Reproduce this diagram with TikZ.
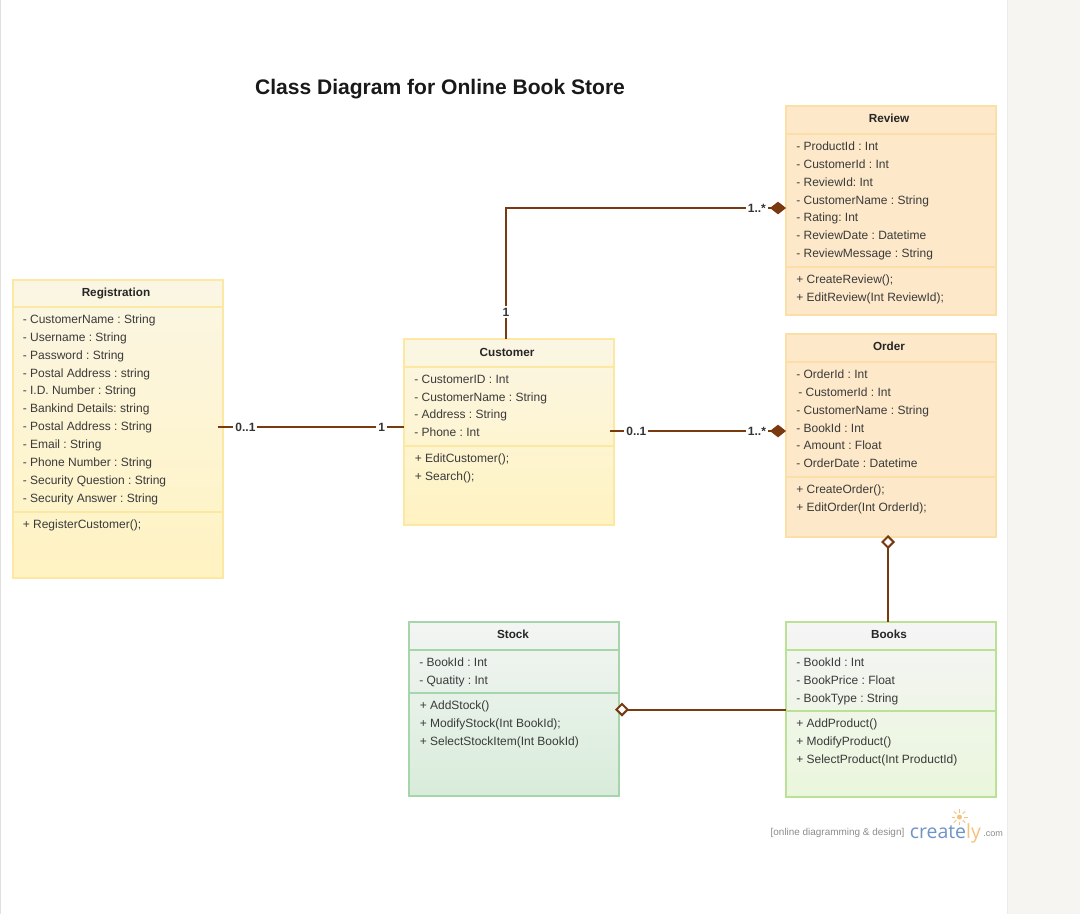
\documentclass[tikz,border=0pt]{standalone}
\usepackage{fontspec}
\setmainfont{Liberation Sans}
\newfontfamily\logofont{Open Sans}
\usetikzlibrary{arrows.meta,calc}
\definecolor{linkbrown}{HTML}{7A3A10}
\definecolor{membertext}{HTML}{3A3A3A}
\definecolor{yellowedge}{HTML}{FCE8A2}
\definecolor{orangeedge}{HTML}{FCDFA6}
\definecolor{stockedge}{HTML}{A6D4AB}
\definecolor{bookedge}{HTML}{BBE294}
\definecolor{yellowtop}{HTML}{FBF6E4}
\definecolor{yellowbottom}{HTML}{FFF3C2}
\definecolor{orangefill}{HTML}{FDE9C9}
\definecolor{stocktop}{HTML}{F3F5F3}
\definecolor{stockbottom}{HTML}{D8ECDA}
\definecolor{booktop}{HTML}{F5F5F5}
\definecolor{bookbottom}{HTML}{EAF6DC}
\definecolor{panelgrey}{HTML}{F6F5F1}
\definecolor{logoblue}{HTML}{6E94C6}
\definecolor{logoorange}{HTML}{F5C27C}
\tikzset{
	classbox/.style={draw,line width=1.5pt,rectangle,anchor=north west,inner sep=0pt,outer sep=0pt,minimum width=157.5pt},
	yellowclass/.style={classbox,draw=yellowedge,top color=yellowtop,bottom color=yellowbottom},
	orangeclass/.style={classbox,draw=orangeedge,fill=orangefill},
	stockclass/.style={classbox,draw=stockedge,top color=stocktop,bottom color=stockbottom},
	bookclass/.style={classbox,draw=bookedge,top color=booktop,bottom color=bookbottom},
	classname/.style={font=\fontsize{8.8}{11}\selectfont\bfseries,text=black!85,inner sep=0pt},
	members/.style={font=\fontsize{9}{13.4}\selectfont\frenchspacing,text=membertext,align=left,anchor=north west,inner sep=0pt},
	link/.style={draw=linkbrown,line width=1.5pt},
	multi/.style={font=\fontsize{9}{11}\selectfont\bfseries,text=black!80,fill=white,inner sep=1.5pt},
	whole/.style={-{Diamond[length=12pt,width=9.5pt,fill=linkbrown]}},
	part/.style={-{Diamond[length=10.5pt,width=10.5pt,fill=white]}},
}
\begin{document}
\begin{tikzpicture}[x=0.75pt,y=-0.75pt]
	\useasboundingbox (0,0) rectangle (1080,914);
	\fill[white] (0,0) rectangle (1080,914);
	\fill[panelgrey] (1007,0) rectangle (1080,914);
	\draw[black!8,line width=.75pt] (1007,0) -- (1007,914);
	\draw[blue!10!black!12,line width=.75pt] (.5,0) -- (.5,914);

	\node[font=\fontsize{15.8}{20}\selectfont\bfseries,text=black!90,inner sep=0pt] (diagramtitle) at (440,89) {Class Diagram for Online Book Store};

	% registration
	\node[yellowclass,minimum height=223.5pt] (reg) at (12.5,280) {};
	\node[classname] (regname) at (116,293) {Registration};
	\draw[yellowedge,line width=1.5pt] (reg.west |- 0,307) -- (reg.east |- 0,307);
	\draw[yellowedge,line width=1.5pt] (reg.west |- 0,512) -- (reg.east |- 0,512);
	\node[members] (regattr) at (22.5,314.5) {- CustomerName : String\\- Username : String\\- Password : String\\- Postal Address : string\\- I.D. Number : String\\- Bankind Details: string\\- Postal Address : String\\- Email : String\\- Phone Number : String\\- Security Question : String\\- Security Answer : String};
	\node[members] (regops) at (22.5,519.5) {+ RegisterCustomer();};

	% customer
	\node[yellowclass,minimum height=139.5pt] (customer) at (404,339) {};
	\node[classname] (customername) at (507,352) {Customer};
	\draw[yellowedge,line width=1.5pt] (customer.west |- 0,367) -- (customer.east |- 0,367);
	\draw[yellowedge,line width=1.5pt] (customer.west |- 0,446) -- (customer.east |- 0,446);
	\node[members] (customerattr) at (414,374.5) {- CustomerID : Int\\- CustomerName : String\\- Address : String\\- Phone : Int};
	\node[members] (customerops) at (414.5,453.5) {+ EditCustomer();\\+ Search();};

	% review
	\node[orangeclass,minimum height=156.75pt] (review) at (786,106) {};
	\node[classname] (reviewname) at (889,118) {Review};
	\draw[orangeedge,line width=1.5pt] (review.west |- 0,134) -- (review.east |- 0,134);
	\draw[orangeedge,line width=1.5pt] (review.west |- 0,267) -- (review.east |- 0,267);
	\node[members] (reviewattr) at (796,141.5) {- ProductId : Int\\- CustomerId : Int\\- ReviewId: Int\\- CustomerName : String\\- Rating: Int\\- ReviewDate : Datetime\\- ReviewMessage : String};
	\node[members] (reviewops) at (796,274.5) {+ CreateReview();\\+ EditReview(Int ReviewId);};

	% order
	\node[orangeclass,minimum height=152.25pt] (order) at (786,334) {};
	\node[classname] (ordername) at (889,346) {Order};
	\draw[orangeedge,line width=1.5pt] (order.west |- 0,362) -- (order.east |- 0,362);
	\draw[orangeedge,line width=1.5pt] (order.west |- 0,477) -- (order.east |- 0,477);
	\node[members] (orderattr) at (796,369.5) {- OrderId : Int\\\hspace{1.5pt}- CustomerId : Int\\- CustomerName : String\\- BookId : Int\\- Amount : Float\\- OrderDate : Datetime};
	\node[members] (orderops) at (796,484.5) {+ CreateOrder();\\+ EditOrder(Int OrderId);};

	% stock
	\node[stockclass,minimum height=130.5pt] (stock) at (409,622) {};
	\node[classname] (stockname) at (513,634) {Stock};
	\draw[stockedge,line width=1.5pt] (stock.west |- 0,650) -- (stock.east |- 0,650);
	\draw[stockedge,line width=1.5pt] (stock.west |- 0,693) -- (stock.east |- 0,693);
	\node[members] (stockattr) at (419,657.5) {- BookId : Int\\- Quatity : Int};
	\node[members] (stockops) at (419.5,700.5) {+ AddStock()\\+ ModifyStock(Int BookId);\\+ SelectStockItem(Int BookId)};

	% books
	\node[bookclass,minimum height=131.25pt] (books) at (786,622) {};
	\node[classname] (booksname) at (889,634) {Books};
	\draw[bookedge,line width=1.5pt] (books.west |- 0,650) -- (books.east |- 0,650);
	\draw[bookedge,line width=1.5pt] (books.west |- 0,711) -- (books.east |- 0,711);
	\node[members] (booksattr) at (796,657.5) {- BookId : Int\\- BookPrice : Float\\- BookType : String};
	\node[members] (booksops) at (796,718.5) {+ AddProduct()\\+ ModifyProduct()\\+ SelectProduct(Int ProductId)};

	% links
	\draw[link] ($(reg.east)+(-5,-2)$) -- node[multi,pos=.15] {0..1} node[multi,pos=.88] {1} (customer.west |- 0,427);
	\draw[link,whole] ($(customer.north)+(-3,0)$) |- node[multi,pos=.103] {1} node[multi,pos=.948] {1..*} ($(review.west)+(0,-2.5)$);
	\draw[link,whole] ($(customer.east)+(-4,-1)$) -- node[multi,pos=.15] {0..1} node[multi,pos=.835] {1..*} ($(order.west)+(0,-4.5)$);
	\draw[link,part,shorten >=-1.5pt] ($(books.north)+(-3,0)$) -- ($(order.south)+(-3,0)$);
	\draw[link,part,shorten >=-3pt] (books.west) -- (stock.east |- books.west);

	% watermark
	\node[font=\fontsize{7.45}{8}\selectfont,text=black!45,inner sep=0pt] (madewith) at (837.5,832.5) {[online diagramming \& design]};
	\node[font=\fontsize{14.6}{18}\logofont,text=logoblue,inner sep=0pt,anchor=base west] (logo) at (909.5,838) {create\textcolor{logoorange}{ly}};
	\node[font=\fontsize{6.8}{8}\selectfont,text=black!45,inner sep=0pt,anchor=base west] (logocom) at (983,836) {.com};
	\fill[logoorange] (959.5,817) circle (2.5);
	\foreach \ang in {0,45,...,315}
		\draw[logoorange,line width=.6pt] (959.5,817) ++(\ang:4.5) -- ++(\ang:3.5);
\end{tikzpicture}
\end{document}
